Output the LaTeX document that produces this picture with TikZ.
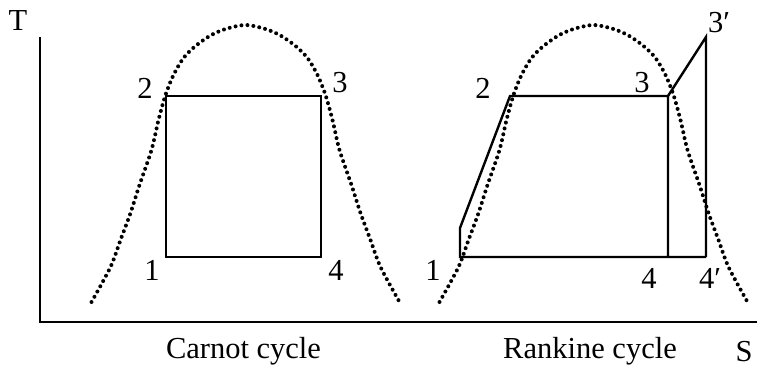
\documentclass[tikz,border=0pt]{standalone}
\usepackage{fontspec}
\setmainfont{Liberation Serif}
\begin{document}
\begin{tikzpicture}[x=1pt,y=-1pt,
  lbl/.style={inner sep=0pt,font=\fontsize{30.5}{33}\selectfont},
  cyc/.style={line width=2.4pt,line join=miter},
  axis/.style={line width=2.8pt},
  dome/.style={line width=4pt,line cap=round,dash pattern=on 0pt off 6pt}]
\useasboundingbox (0,0) rectangle (757,369);
% axes
\coordinate (ytop) at (40,37);
\coordinate (org) at (40,322);
\coordinate (xend) at (757,322);
\draw[axis] (ytop) -- (org) -- (xend);
\node[lbl] (T) at (18,21) {T};
\node[lbl] (S) at (744,352) {S};
% domes
\foreach \s in {0,348}{
\begin{scope}[xshift=\s pt]
\draw[dome] plot[smooth] coordinates {(91.5,302) (110.5,267) (120.5,240) (130.5,213) (139.5,185) (151.5,150) (158.5,120) (165.5,95) (173.5,75) (183.5,58) (195.5,46) (210.5,35.5) (225.5,29) (245.5,25) (265.5,29) (280.5,35.5) (295.5,46) (307.5,58) (317.5,75) (325.5,95) (332.5,120) (339.5,150) (351.5,185) (360.5,213) (370.5,240) (380.5,267) (399.5,302)};
\end{scope}}
% Carnot cycle
\coordinate (c1) at (166,257);
\coordinate (c2) at (166,96);
\coordinate (c3) at (321,96);
\coordinate (c4) at (321,257);
\draw[cyc] (c1) -- (c2) -- (c3) -- (c4) -- cycle;
\node[lbl] (lc1) at (152,270) {1};
\node[lbl] (lc2) at (145,88) {2};
\node[lbl] (lc3) at (340,83) {3};
\node[lbl] (lc4) at (336,270) {4};
\node[lbl] (cap1) at (243.5,351) {Carnot cycle};
% Rankine cycle
\coordinate (r1) at (460,257);
\coordinate (r1a) at (460,228);
\coordinate (r2) at (510,96);
\coordinate (r3) at (668,96);
\coordinate (r4) at (668,257);
\coordinate (r3p) at (706,37);
\coordinate (r4p) at (706,257);
\draw[cyc] (r4p) -- (r1) -- (r1a) -- (r2) -- (r3) -- (r4);
\draw[cyc] (r3) -- (r3p) -- (r4p);
\node[lbl] (lr1) at (433,270) {1};
\node[lbl] (lr2) at (483,88) {2};
\node[lbl] (lr3) at (642,83) {3};
\node[lbl] (lr3p) at (719,23) {3′};
\node[lbl] (lr4) at (649,278) {4};
\node[lbl] (lr4p) at (710,278) {4′};
\node[lbl] (cap2) at (590,351) {Rankine cycle};
\end{tikzpicture}
\end{document}
